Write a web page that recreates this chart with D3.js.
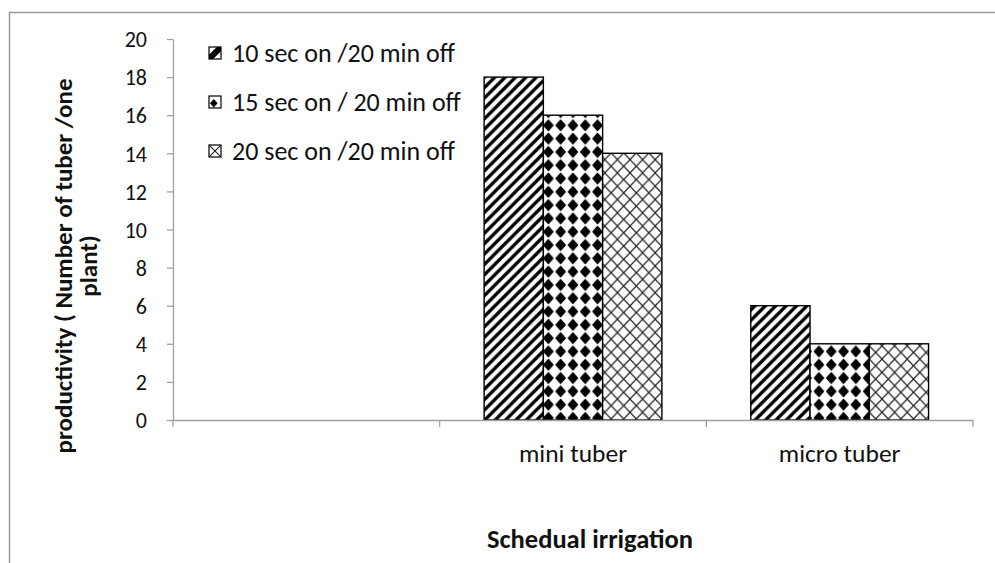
<!DOCTYPE html>
<html>
<head>
<meta charset="utf-8">
<script src="https://cdn.jsdelivr.net/npm/d3@7"></script>
<style>
  html, body { margin: 0; padding: 0; background: #fff; }
  svg { display: block; font-family: Carlito, Calibri, Lato, sans-serif; }
</style>
</head>
<body>
<svg id="chart" width="995" height="563"></svg>
<script>
// ---- data ----
const categories = ["", "mini tuber", "micro tuber"];
const seriesNames = ["10 sec on /20 min off", "15 sec on / 20 min off", "20 sec on /20 min off"];
const series10 = [null, 18, 6];
const series15 = [null, 16, 4];
const series20 = [null, 14, 4];
const yTicks = [0, 2, 4, 6, 8, 10, 12, 14, 16, 18, 20];
const xTitle = "Schedual irrigation";
const yTitleLines = ["productivity ( Number of tuber /one", "plant)"];

const seriesValues = [series10, series15, series20];
const patternIds = ["pStripe", "pDiamond", "pCross"];

const svg = d3.select("#chart");
const plot = { left: 173, right: 973, top: 39, bottom: 420 };
const axisColor = "#a0a0a0";
const fontFam = "Carlito, Calibri, Lato, sans-serif";

// outer chart border
svg.append("rect").attr("x", 9.5).attr("y", 12.5).attr("width", 1200).attr("height", 1200)
  .attr("fill", "#fff").attr("stroke", "#9c9c9c").attr("stroke-width", 1.5);

// ---- patterns ----
const defs = svg.append("defs");
function stripePattern(id, s, sw) {
  const p = defs.append("pattern").attr("id", id).attr("patternUnits", "userSpaceOnUse")
    .attr("width", s).attr("height", s);
  p.append("rect").attr("width", s).attr("height", s).attr("fill", "#fff");
  p.append("path").attr("d", `M0,${s} L${s},0 M${-s/2},${s/2} L${s/2},${-s/2} M${s/2},${s*1.5} L${s*1.5},${s/2}`)
    .attr("stroke", "#000").attr("stroke-width", sw);
}
function diamondPattern(id, w, h, rx, ry) {
  const p = defs.append("pattern").attr("id", id).attr("patternUnits", "userSpaceOnUse")
    .attr("width", w).attr("height", h).attr("x", 1).attr("y", -1);
  p.append("rect").attr("width", w).attr("height", h).attr("fill", "#fff");
  const cx = w / 2, cy = h / 2;
  p.append("path").attr("d", `M${cx},${cy-ry} L${cx+rx},${cy} L${cx},${cy+ry} L${cx-rx},${cy} Z`)
    .attr("fill", "#000").attr("stroke", "#000").attr("stroke-width", 1.2).attr("stroke-linejoin", "round");
}
function crossPattern(id, w, h, sw) {
  const p = defs.append("pattern").attr("id", id).attr("patternUnits", "userSpaceOnUse")
    .attr("width", w).attr("height", h);
  p.append("rect").attr("width", w).attr("height", h).attr("fill", "#fff");
  p.append("path").attr("d", `M0,0 L${w},${h} M${w},0 L0,${h}`)
    .attr("stroke", "#222").attr("stroke-width", sw);
}
stripePattern("pStripe", 10.4, 3.4);
diamondPattern("pDiamond", 12.3, 13.3, 4.6, 5.2);
crossPattern("pCross", 12.6, 13.3, 1.2);

// legend swatch patterns (one motif per swatch)
function legendPattern(id, draw) {
  const p = defs.append("pattern").attr("id", id).attr("patternUnits", "objectBoundingBox")
    .attr("patternContentUnits", "objectBoundingBox").attr("width", 1).attr("height", 1);
  p.append("rect").attr("width", 1).attr("height", 1).attr("fill", "#fff");
  draw(p);
}
legendPattern("lStripe", p => p.append("path").attr("d", "M0,0.65 L0.65,0 L1,0 L1,0.35 L0.35,1 L0,1 Z").attr("fill", "#000"));
legendPattern("lDiamond", p => p.append("path").attr("d", "M0.4,0.25 L0.72,0.6 L0.4,0.95 L0.08,0.6 Z").attr("fill", "#000"));
legendPattern("lCross", p => p.append("path").attr("d", "M0,0 L1,1 M1,0 L0,1").attr("stroke", "#222").attr("stroke-width", 0.09));
const legendPatternIds = ["lStripe", "lDiamond", "lCross"];

// ---- scales ----
const x0 = d3.scaleBand().domain(categories).range([plot.left, plot.right]).paddingInner(0).paddingOuter(0);
const x1 = d3.scaleBand().domain(seriesNames).range([0, x0.bandwidth()]).paddingInner(0).paddingOuter(0.75);
const y = d3.scaleLinear().domain([0, 20]).range([plot.bottom, plot.top]);

// ---- bars ----
const rows = [];
categories.forEach((c, ci) => {
  seriesNames.forEach((s, si) => {
    const v = seriesValues[si][ci];
    if (v !== null) rows.push({ cat: c, ser: s, si, v });
  });
});
svg.append("g").selectAll("rect").data(rows).join("rect")
  .attr("x", d => x0(d.cat) + x1(d.ser))
  .attr("y", d => y(d.v))
  .attr("width", x1.bandwidth())
  .attr("height", d => y(0) - y(d.v))
  .attr("fill", d => `url(#${patternIds[d.si]})`)
  .attr("stroke", "#000").attr("stroke-width", 1.4);

// ---- y axis ----
const yAxisG = svg.append("g").attr("transform", `translate(${plot.left},0)`)
  .call(d3.axisLeft(y).tickValues(yTicks).tickSize(6).tickSizeOuter(0).tickPadding(20).tickFormat(d3.format("d")));
yAxisG.select(".domain").attr("stroke", axisColor).attr("stroke-width", 1.3);
yAxisG.selectAll(".tick line").attr("stroke", axisColor).attr("stroke-width", 1.3);
yAxisG.selectAll(".tick text").attr("fill", "#111").attr("dy", "0.35em")
  .style("font-size", "22px").style("font-family", fontFam);

// ---- x axis ----
const xAxisG = svg.append("g").attr("transform", `translate(0,${plot.bottom})`)
  .call(d3.axisBottom(x0).tickSize(0).tickSizeOuter(0));
xAxisG.select(".domain").attr("stroke", axisColor).attr("stroke-width", 1.3);
xAxisG.selectAll(".tick text").attr("y", 42).attr("dy", null).attr("fill", "#111")
  .style("font-size", "25.5px").style("font-family", fontFam);
const boundaries = categories.map(c => x0(c)).concat([x0.range()[1]]);
svg.append("g").selectAll("line").data(boundaries).join("line")
  .attr("x1", d => d).attr("x2", d => d)
  .attr("y1", plot.bottom).attr("y2", plot.bottom + 7)
  .attr("stroke", axisColor).attr("stroke-width", 1.3);

// ---- axis titles ----
svg.append("text").attr("x", 590).attr("y", 548).attr("text-anchor", "middle")
  .attr("font-weight", "bold").attr("font-size", 26.5).attr("fill", "#111").text(xTitle);
const yt = svg.append("text").attr("transform", "translate(72,266) rotate(-90)")
  .attr("text-anchor", "middle").attr("font-weight", "bold").attr("font-size", 25).attr("fill", "#111");
yTitleLines.forEach((t, i) => {
  yt.append("tspan").attr("x", 0).attr("y", i * 25).text(t);
});

// ---- legend ----
const legendTop = 53, legendStep = 49;
const lg = svg.append("g").selectAll("g").data(seriesNames).join("g")
  .attr("transform", (d, i) => `translate(209,${legendTop + i * legendStep})`);
lg.append("rect").attr("x", 0).attr("y", -6).attr("width", 12).attr("height", 12)
  .attr("fill", (d, i) => `url(#${legendPatternIds[i]})`).attr("stroke", "#000").attr("stroke-width", 1.2);
lg.append("text").attr("x", 23).attr("y", 9).attr("font-size", 26).attr("fill", "#111").text(d => d);
</script>
</body>
</html>
